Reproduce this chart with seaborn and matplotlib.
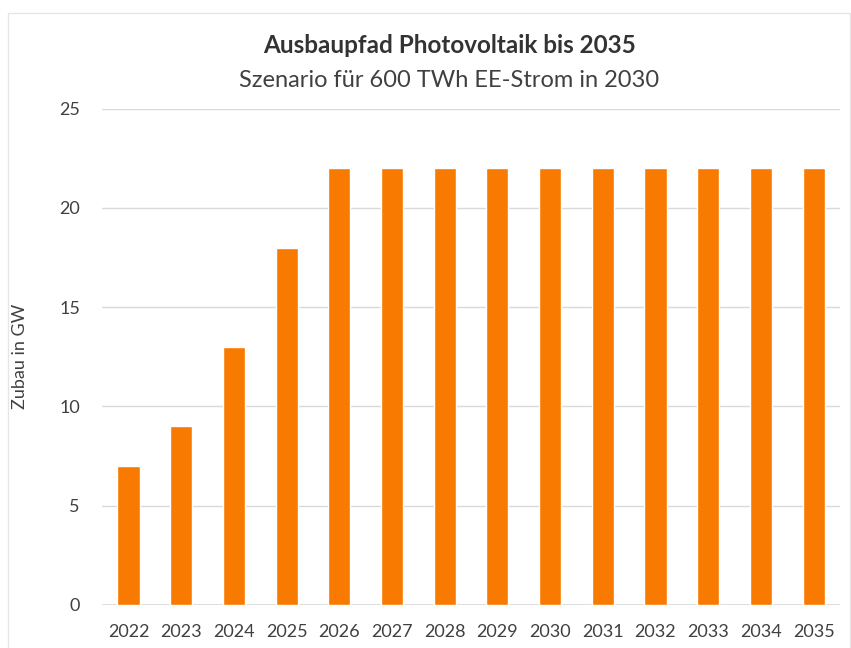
import matplotlib
matplotlib.use("Agg")
import matplotlib.pyplot as plt
import seaborn as sns
import pandas as pd
from matplotlib.patches import Rectangle

# Daten
jahre = ["2022", "2023", "2024", "2025", "2026", "2027", "2028",
         "2029", "2030", "2031", "2032", "2033", "2034", "2035"]
zubau_gw = [7, 9, 13, 18, 22, 22, 22, 22, 22, 22, 22, 22, 22, 22]

df = pd.DataFrame({"Jahr": jahre, "Zubau": zubau_gw})

sns.set_style("white")
plt.rcParams["font.family"] = ["Lato", "DejaVu Sans"]

text_col = "#404040"
fig = plt.figure(figsize=(8.51, 6.48), dpi=100)
ax = fig.add_axes([0.12, 0.0664, 0.867, 0.766])

sns.barplot(data=df, x="Jahr", y="Zubau", color="#F97A00", saturation=1,
            width=0.42, ax=ax, zorder=3)

ax.set_ylim(0, 25)
ax.set_yticks([0, 5, 10, 15, 20, 25])
ax.yaxis.grid(True, color="#D9D9D9", linewidth=1, zorder=0)
ax.set_axisbelow(True)
sns.despine(ax=ax, left=True, bottom=True)
ax.axhline(0, color="#D9D9D9", linewidth=1.2, zorder=1)
ax.tick_params(axis="both", length=0, labelsize=13, labelcolor=text_col)
ax.tick_params(axis="y", pad=16)
ax.tick_params(axis="x", pad=14)
ax.set_xlabel("")
ax.set_ylabel("Zubau in GW", fontsize=13, color=text_col)
ax.yaxis.set_label_coords(-0.1, 0.5)

fig.text(0.528, 0.930, "Ausbaupfad Photovoltaik bis 2035", ha="center", va="center",
         fontsize=17.5, fontweight="bold", color="#333333")
fig.text(0.528, 0.876, "Szenario für 600 TWh EE-Strom in 2030", ha="center", va="center",
         fontsize=17, color=text_col)

# feiner Rahmen
fig.patches.append(Rectangle((8 / 851, -0.01), 0.99, 0.995 - 10 / 648 + 0.01,
                             transform=fig.transFigure, fill=False,
                             edgecolor="#E6E6E6", linewidth=1))

fig.savefig("out.png", dpi=100, facecolor="white")
